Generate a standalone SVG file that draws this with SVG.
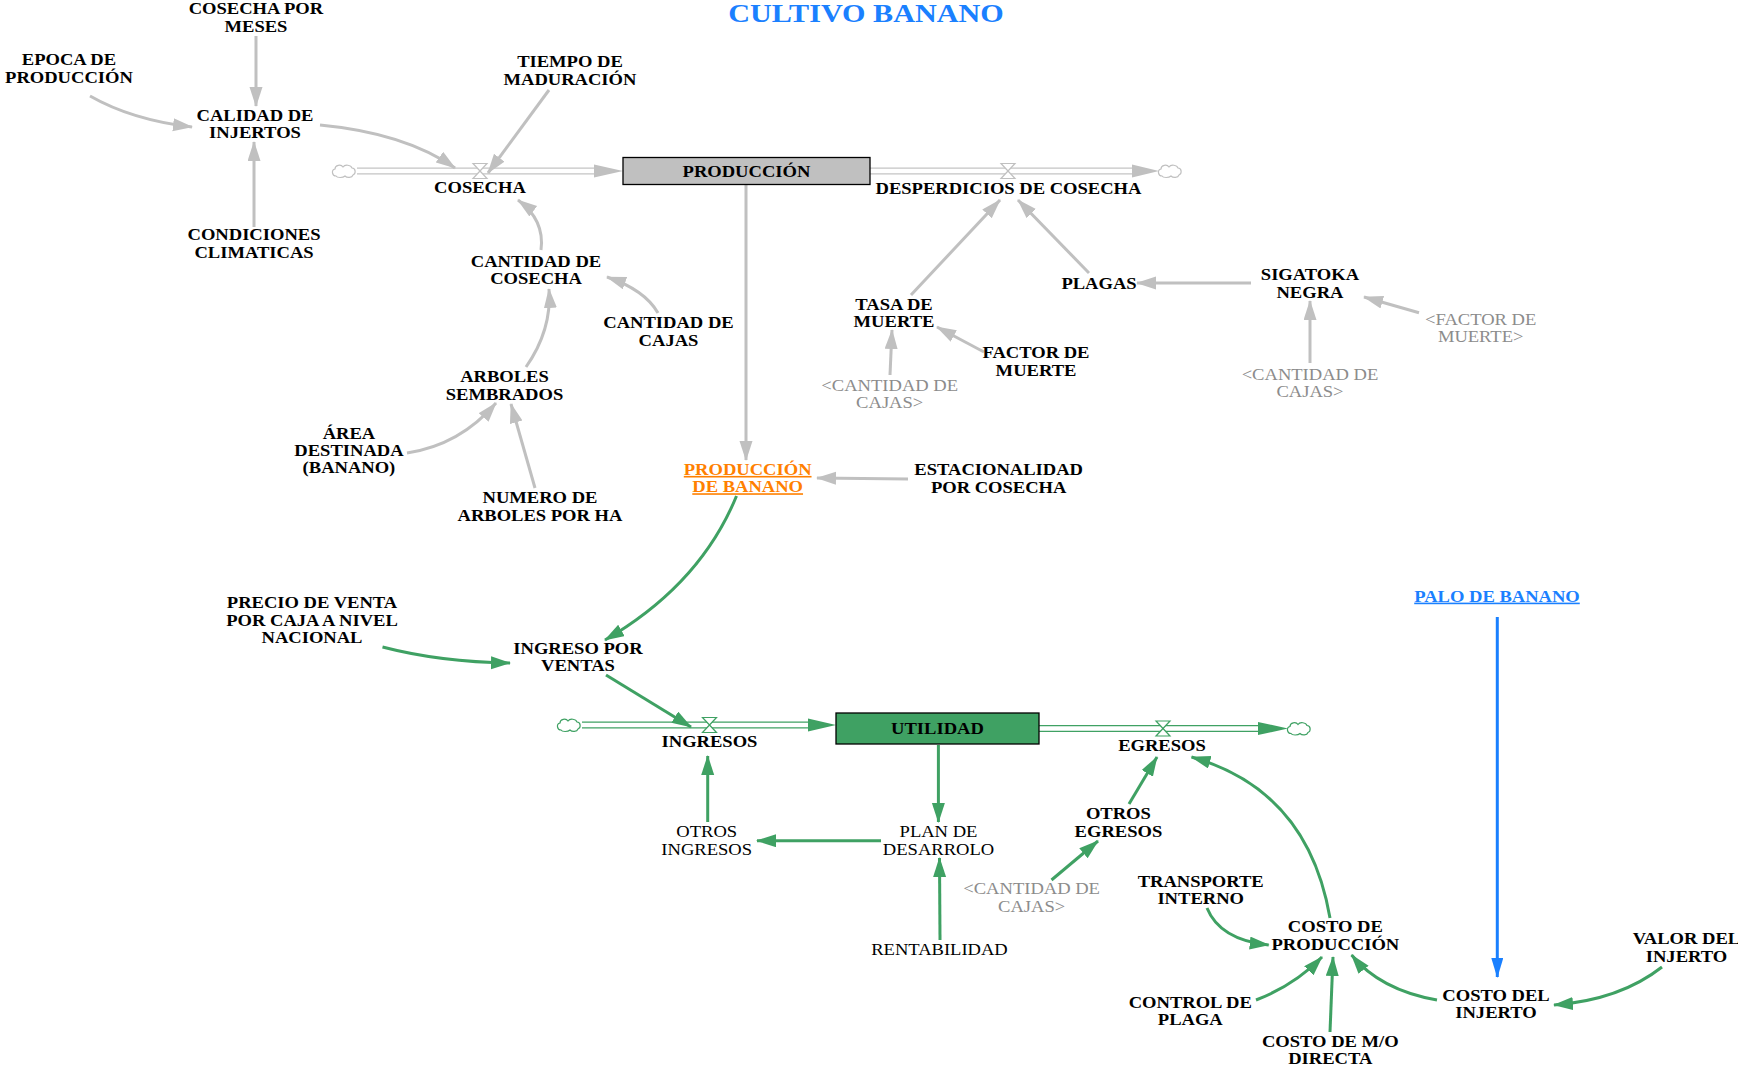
<svg xmlns="http://www.w3.org/2000/svg" width="1738" height="1068" viewBox="0 0 1738 1068">
<style>
.t{font-family:"Liberation Serif","Times New Roman",serif;font-size:16px;text-anchor:middle;fill:#000;transform-box:fill-box;transform-origin:center;transform:scaleX(1.16)}
.b{font-weight:bold}
.sh{fill:#8c8c8c}
.or{fill:#ff8000;text-decoration:underline}
.bl{fill:#1a80ff;text-decoration:underline}
.lg{fill:none;stroke:#c0c0c0;stroke-width:3;marker-end:url(#ag)}
.lgr{fill:none;stroke:#3fa163;stroke-width:3;marker-end:url(#agr)}
.lb{fill:none;stroke:#1a80ff;stroke-width:3;marker-end:url(#ab)}
.pipeg{stroke:#c4c4c4;stroke-width:7;fill:none}
.pipegr{stroke:#3fa163;stroke-width:7;fill:none}
.pipein{stroke:#fff;stroke-width:4.4;fill:none}
.cg{fill:#fff;stroke:#c0c0c0;stroke-width:1.2}
.cgr{fill:#fff;stroke:#3fa163;stroke-width:1.2}
</style>
<defs>
<marker id="ag" markerUnits="userSpaceOnUse" markerWidth="21" markerHeight="14" refX="19" refY="6.5" orient="auto"><path d="M0,0 L20,6.5 L0,13 z" fill="#c0c0c0"/></marker>
<marker id="agr" markerUnits="userSpaceOnUse" markerWidth="21" markerHeight="14" refX="19" refY="6.5" orient="auto"><path d="M0,0 L20,6.5 L0,13 z" fill="#3fa163"/></marker>
<marker id="ab" markerUnits="userSpaceOnUse" markerWidth="21" markerHeight="14" refX="19" refY="6" orient="auto"><path d="M0,0 L20,6 L0,12 z" fill="#1a80ff"/></marker>
<path id="cloud" d="M-9,5 c-4,0 -5,-6 -1,-7 c0,-4 6,-5 8,-2 c2,-3 8,-2 9,1 c4,0 4,6 1,7 c-1,3 -6,3 -8,1 c-2,2 -8,2 -9,0 z"/>
<path id="valve" d="M-7,-7.5 H7 L-7,7.5 H7 Z"/>
</defs>

<text class="t b" x="866" y="22.3" style="font-size:26px;fill:#1a80ff">CULTIVO BANANO</text>

<g id="connectors">
<!-- flow pipes -->
<path class="pipeg" d="M357,171 H596"/><path class="pipein" d="M357,171 H596"/>
<polygon points="594,164.5 623,171 594,177.5" fill="#c0c0c0"/>
<path class="pipeg" d="M870,171 H1134"/><path class="pipein" d="M870,171 H1134"/>
<polygon points="1132,164.5 1159,171 1132,177.5" fill="#c0c0c0"/>
<path class="pipegr" d="M582,725 H810"/><path class="pipein" d="M582,725 H810"/>
<polygon points="808,718.5 836,725 808,731.5" fill="#3fa163"/>
<path class="pipegr" d="M1039,728.5 H1260"/><path class="pipein" d="M1039,728.5 H1260"/>
<polygon points="1258,722 1288,728.5 1258,735" fill="#3fa163"/>
<use href="#cloud" class="cg" transform="translate(345,171)"/>
<use href="#cloud" class="cg" transform="translate(1171,171)"/>
<use href="#cloud" class="cgr" transform="translate(570,725)"/>
<use href="#cloud" class="cgr" transform="translate(1300,728.5)"/>
<use href="#valve" class="cg" transform="translate(480,171)"/>
<use href="#valve" class="cg" transform="translate(1008,171)"/>
<use href="#valve" class="cgr" transform="translate(709.5,725)"/>
<use href="#valve" class="cgr" transform="translate(1163,728.5)"/>
<!-- gray links -->
<path class="lg" d="M256,36 L256,106"/>
<path class="lg" d="M90,96 Q132,120 192,127"/>
<path class="lg" d="M254,227 L254,142"/>
<path class="lg" d="M320,125 Q405,133 455,168"/>
<path class="lg" d="M549,90 L488,173"/>
<path class="lg" d="M541,250 Q545,220 518,200"/>
<path class="lg" d="M658,313 Q645,290 607,277"/>
<path class="lg" d="M526,367 Q552,330 549,289"/>
<path class="lg" d="M407,453 Q460,445 496,403"/>
<path class="lg" d="M535,488 L511,404"/>
<path class="lg" d="M746,185 L746,460"/>
<path class="lg" d="M908,479 L817,478"/>
<path class="lg" d="M911,295 L1000,200"/>
<path class="lg" d="M1089,273 L1018,200"/>
<path class="lg" d="M984,352 L937,327"/>
<path class="lg" d="M890,375 L892,330"/>
<path class="lg" d="M1251,283 L1137,283"/>
<path class="lg" d="M1310,363 L1310,301"/>
<path class="lg" d="M1419,312.7 L1364,297"/>
<!-- green links -->
<path class="lgr" d="M736.5,496 Q700,585 605,640"/>
<path class="lgr" d="M382.5,647 Q440,662 510,663"/>
<path class="lgr" d="M606,675 L691,727"/>
<path class="lgr" d="M707.7,822 L707.7,756"/>
<path class="lgr" d="M938.4,745 L938.4,822"/>
<path class="lgr" d="M881,840.7 L757,840.7"/>
<path class="lgr" d="M940,940 L939.5,858"/>
<path class="lgr" d="M1129,804 L1157,757"/>
<path class="lgr" d="M1051.5,880 L1098,841"/>
<path class="lgr" d="M1330,918 Q1308,790 1191.5,757"/>
<path class="lgr" d="M1207,908 Q1220,940 1268.7,945"/>
<path class="lgr" d="M1256,1000 Q1295,985 1322,957"/>
<path class="lgr" d="M1330,1032 L1333,957"/>
<path class="lgr" d="M1437,1000 Q1380,990 1351.6,955"/>
<path class="lgr" d="M1662,967 Q1620,1000 1554,1005"/>
<!-- blue link -->
<path class="lb" d="M1497.3,617 L1497.3,977"/>
</g>

<g id="stock-produccion"><rect x="623" y="157.5" width="247" height="27" fill="#c0c0c0" stroke="#000" stroke-width="1.3"/><text class="t b" x="746.5" y="177">PRODUCCIÓN</text></g>
<g id="stock-utilidad"><rect x="836" y="713" width="203" height="31" fill="#3fa163" stroke="#000" stroke-width="1.3"/><text class="t b" x="937.5" y="734">UTILIDAD</text></g>

<g id="cosecha-por-meses"><text class="t b" x="256" y="14">COSECHA POR<tspan x="256" y="32">MESES</tspan></text></g>
<g id="epoca-de-produccion"><text class="t b" x="69" y="65.5">EPOCA DE<tspan x="69" y="83">PRODUCCIÓN</tspan></text></g>
<g id="calidad-de-injertos"><text class="t b" x="255" y="120.7">CALIDAD DE<tspan x="255" y="138.3">INJERTOS</tspan></text></g>
<g id="tiempo-de-maduracion"><text class="t b" x="570" y="67.5">TIEMPO DE<tspan x="570" y="85">MADURACIÓN</tspan></text></g>
<g id="condiciones-climaticas"><text class="t b" x="254" y="240.5">CONDICIONES<tspan x="254" y="258">CLIMATICAS</tspan></text></g>
<g id="cosecha"><text class="t b" x="480" y="193">COSECHA</text></g>
<g id="desperdicios"><text class="t b" x="1008.5" y="194">DESPERDICIOS DE COSECHA</text></g>
<g id="cantidad-de-cosecha"><text class="t b" x="536" y="266.7">CANTIDAD DE<tspan x="536" y="284.3">COSECHA</tspan></text></g>
<g id="cantidad-de-cajas"><text class="t b" x="668.5" y="328.3">CANTIDAD DE<tspan x="668.5" y="346">CAJAS</tspan></text></g>
<g id="arboles-sembrados"><text class="t b" x="504.5" y="382.3">ARBOLES<tspan x="504.5" y="400">SEMBRADOS</tspan></text></g>
<g id="area-destinada"><text class="t b" x="349" y="439.3">ÁREA<tspan x="349" y="456.5">DESTINADA</tspan><tspan x="349" y="473">(BANANO)</tspan></text></g>
<g id="numero-de-arboles"><text class="t b" x="540" y="503.3">NUMERO DE<tspan x="540" y="521">ARBOLES POR HA</tspan></text></g>
<g id="tasa-de-muerte"><text class="t b" x="894" y="310">TASA DE<tspan x="894" y="327.3">MUERTE</tspan></text></g>
<g id="factor-de-muerte"><text class="t b" x="1036" y="358.3">FACTOR DE<tspan x="1036" y="376">MUERTE</tspan></text></g>
<g id="cantidad-cajas-shadow-1"><text class="t sh" x="889.7" y="390.7">&lt;CANTIDAD DE<tspan x="889.7" y="408.3">CAJAS&gt;</tspan></text></g>
<g id="plagas"><text class="t b" x="1099" y="289">PLAGAS</text></g>
<g id="sigatoka-negra"><text class="t b" x="1310" y="280">SIGATOKA<tspan x="1310" y="297.7">NEGRA</tspan></text></g>
<g id="factor-muerte-shadow"><text class="t sh" x="1480.7" y="325">&lt;FACTOR DE<tspan x="1480.7" y="341.7">MUERTE&gt;</tspan></text></g>
<g id="cantidad-cajas-shadow-2"><text class="t sh" x="1310" y="380">&lt;CANTIDAD DE<tspan x="1310" y="397.3">CAJAS&gt;</tspan></text></g>
<g id="produccion-de-banano"><text class="t b or" x="747.7" y="475">PRODUCCIÓN<tspan x="747.7" y="492.3">DE BANANO</tspan></text></g>
<g id="estacionalidad"><text class="t b" x="998.7" y="475.5">ESTACIONALIDAD<tspan x="998.7" y="493">POR COSECHA</tspan></text></g>
<g id="precio-de-venta"><text class="t b" x="312" y="608.3">PRECIO DE VENTA<tspan x="312" y="626">POR CAJA A NIVEL</tspan><tspan x="312" y="643">NACIONAL</tspan></text></g>
<g id="ingreso-por-ventas"><text class="t b" x="578" y="654">INGRESO POR<tspan x="578" y="671">VENTAS</tspan></text></g>
<g id="ingresos"><text class="t b" x="709.5" y="746.7">INGRESOS</text></g>
<g id="egresos"><text class="t b" x="1162" y="751">EGRESOS</text></g>
<g id="otros-ingresos"><text class="t" x="706.7" y="837.3">OTROS<tspan x="706.7" y="855">INGRESOS</tspan></text></g>
<g id="plan-de-desarrolo"><text class="t" x="938.5" y="837.3">PLAN DE<tspan x="938.5" y="855">DESARROLO</tspan></text></g>
<g id="rentabilidad"><text class="t" x="939.5" y="955">RENTABILIDAD</text></g>
<g id="otros-egresos"><text class="t b" x="1118.4" y="819">OTROS<tspan x="1118.4" y="836.7">EGRESOS</tspan></text></g>
<g id="cantidad-cajas-shadow-3"><text class="t sh" x="1031.6" y="894.3">&lt;CANTIDAD DE<tspan x="1031.6" y="911.7">CAJAS&gt;</tspan></text></g>
<g id="transporte-interno"><text class="t b" x="1200.7" y="886.7">TRANSPORTE<tspan x="1200.7" y="904">INTERNO</tspan></text></g>
<g id="costo-de-produccion"><text class="t b" x="1335.4" y="932.3">COSTO DE<tspan x="1335.4" y="950">PRODUCCIÓN</tspan></text></g>
<g id="control-de-plaga"><text class="t b" x="1190.3" y="1007.7">CONTROL DE<tspan x="1190.3" y="1025">PLAGA</tspan></text></g>
<g id="costo-mo-directa"><text class="t b" x="1330.3" y="1046.7">COSTO DE M/O<tspan x="1330.3" y="1064">DIRECTA</tspan></text></g>
<g id="costo-del-injerto"><text class="t b" x="1496" y="1000.7">COSTO DEL<tspan x="1496" y="1018.3">INJERTO</tspan></text></g>
<g id="valor-del-injerto"><text class="t b" x="1686.5" y="944">VALOR DEL<tspan x="1686.5" y="961.7">INJERTO</tspan></text></g>
<g id="palo-de-banano"><text class="t b bl" x="1497" y="601.7">PALO DE BANANO</text></g>
</svg>
